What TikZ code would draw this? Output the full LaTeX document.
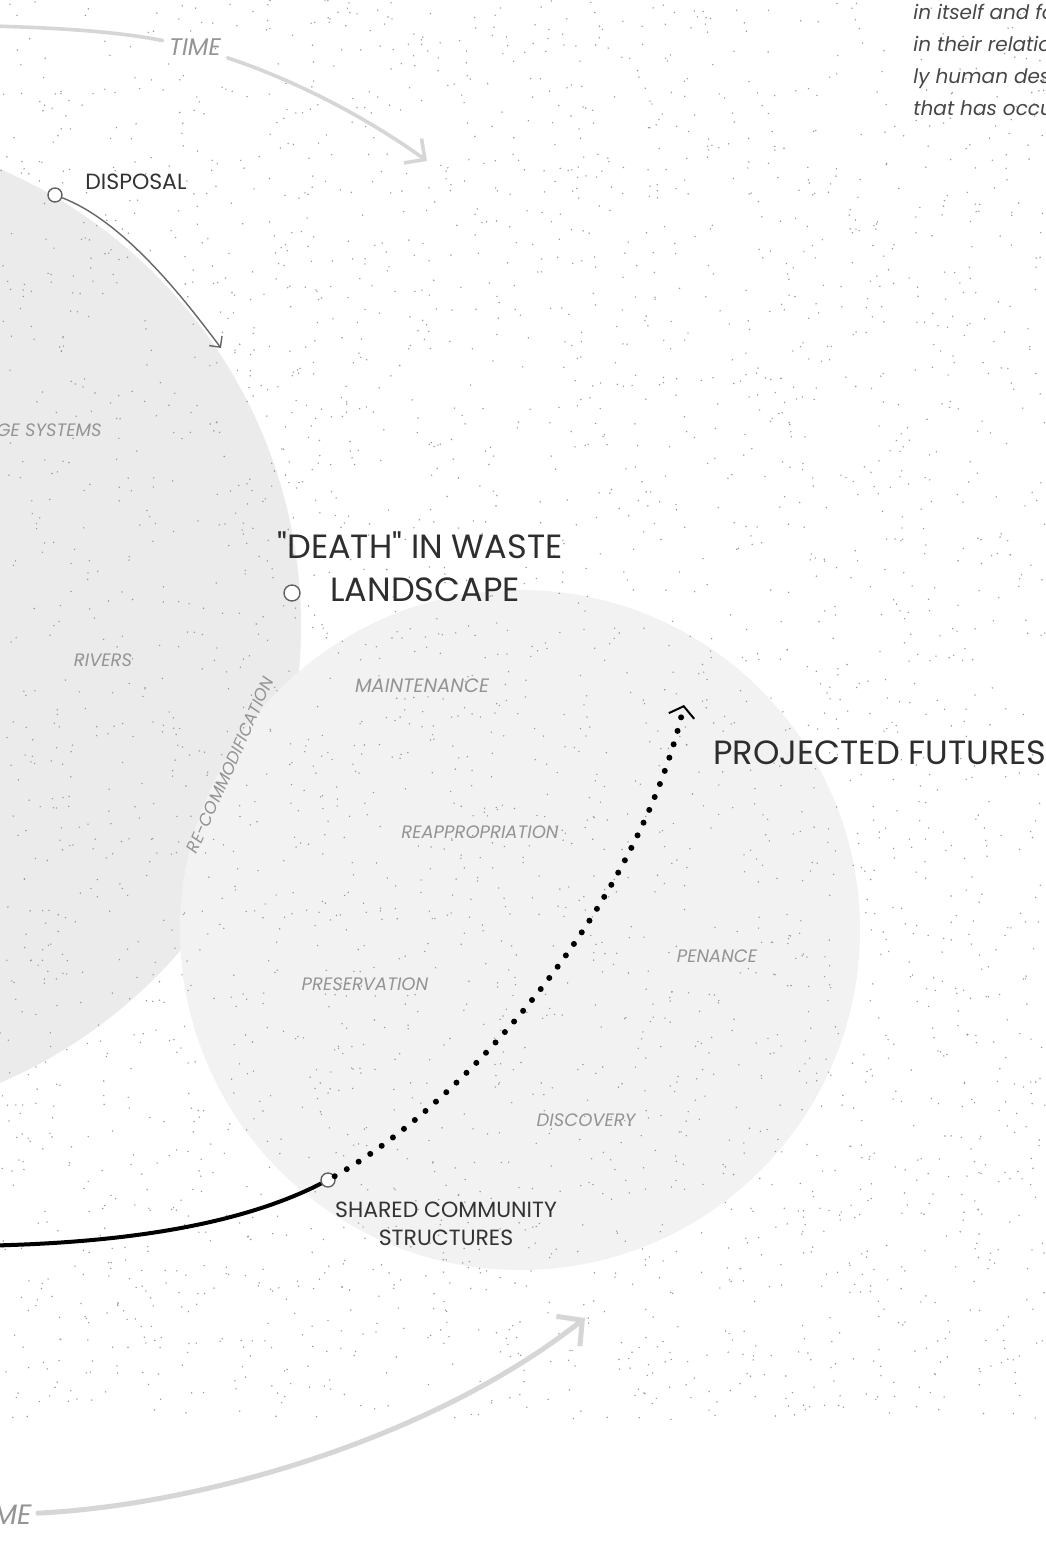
\documentclass[tikz,border=0pt]{standalone}
\usepackage{fontspec}
\setmainfont{Poppins}
\usetikzlibrary{arrows.meta, positioning}

\begin{document}
\begin{tikzpicture}[x=0.5pt, y=-0.5pt, >=Stealth,
    speck/.style={fill=black!40},
    head/.style={text=black!82, font=\fontsize{16.8}{19}\selectfont, inner sep=0pt},
    stage/.style={text=black!80, font=\fontsize{11}{14}\selectfont, inner sep=0pt, align=center},
    theme/.style={text=black!42, font=\itshape\fontsize{9}{11}\selectfont, inner sep=0pt},
    hollow/.style={circle, draw=black!62, fill=white, line width=0.7pt, minimum size=7pt, inner sep=0pt},
    timelabel/.style={text=black!42, font=\itshape\fontsize{12}{14}\selectfont, inner sep=3pt},
    timearc/.style={draw=black!16, line width=1.8pt, line cap=round},
    flow/.style={draw=black!60, line width=0.7pt},
    future/.style={line width=3pt, line cap=round, dash pattern=on 0pt off 7pt}]

    % page and the two grey grounds
    \fill[white] (0,0) rectangle (1045,1543);
    \useasboundingbox (0,0) rectangle (1045,1543);
    \fill[black!8] (-196,626) circle [radius=497];
    \fill[black!5] (520,930) circle [radius=340];

    % stipple
    \pgfmathsetseed{41}
    \foreach \k in {1,...,3400}{
        \pgfmathsetmacro\sx{rnd*1045}
        \pgfmathsetmacro\sy{rnd*1420}
        \fill[speck] (\sx,\sy) circle (0.4pt);
    }

    % time arcs
    \node[timelabel] (timeA) at (195,47) {TIME};
    \node[timelabel, anchor=east, font=\itshape\fontsize{14}{16}\selectfont] (timeB) at (38,1515) {TIME};
    \coordinate (tA0) at (-10,26);
    \coordinate (tA1) at (427,161);
    \coordinate (tB1) at (585,1318);
    \draw[timearc] (tA0) .. controls (70,28) and (125,33) .. (timeA);
    \draw[timearc, -{Straight Barb[length=7.5pt, width=15pt]}] (timeA) .. controls (300,82) and (370,120) .. (tA1);
    \draw[timearc, line width=2.5pt, -{Straight Barb[length=9pt, width=19pt]}] (timeB) .. controls (200,1505) and (430,1440) .. (tB1);

    % disposal
    \node[hollow] (disp) at (55,195) {};
    \node[stage, anchor=west] (dispL) at (85,182) {DISPOSAL};
    \coordinate (dispEnd) at (221,348);
    \draw[flow, -{Straight Barb[length=4pt, width=8pt]}] (disp) .. controls (125,222) and (185,300) .. (dispEnd);

    % centre
    \node[head] (death) at (420,545) {\textquotedbl DEATH\textquotedbl{} IN WASTE};
    \node[head, anchor=west] (land) at (330,590) {LANDSCAPE};
    \node[hollow, minimum size=8pt] (landdot) at (292,593) {};

    % themes
    \node[theme, anchor=east] (drain) at (102,430) {GE SYSTEMS};
    \node[theme] (rivers) at (103,660) {RIVERS};
    \node[theme, rotate=66, font=\itshape\fontsize{8.5}{10}\selectfont] (recom) at (230,765) {RE-COMMODIFICATION};
    \node[theme, font=\itshape\fontsize{9.7}{11}\selectfont] (maint) at (422,686) {MAINTENANCE};
    \node[theme] (reapp) at (480,832) {REAPPROPRIATION};
    \node[theme] (presv) at (365,984) {PRESERVATION};
    \node[theme] (penan) at (717,956) {PENANCE};
    \node[theme] (disco) at (586,1120) {DISCOVERY};

    % shared structures and projected futures
    \node[hollow] (shared) at (328,1180) {};
    \node[stage] (sharedL) at (446,1224) {SHARED COMMUNITY\\STRUCTURES};
    \node[head, anchor=west] (proj) at (713,753) {PROJECTED FUTURES};
    \coordinate (past) at (-40,1246);
    \coordinate (projEnd) at (684,705);
    \draw[line width=2pt] (past) .. controls (120,1245) and (240,1225) .. (shared);
    \draw[future, -{Straight Barb[line width=1pt, length=5pt, width=13pt]}] (shared) .. controls (470,1100) and (640,900) .. (projEnd);

    % essay text
    \node[anchor=north west, align=left, inner sep=0pt, text=black!72,
        font=\itshape\fontsize{10}{16}\selectfont] (essay) at (913,4)
        {in itself and fo\\in their relatio\\ly human des\\that has occu};
\end{tikzpicture}
\end{document}
